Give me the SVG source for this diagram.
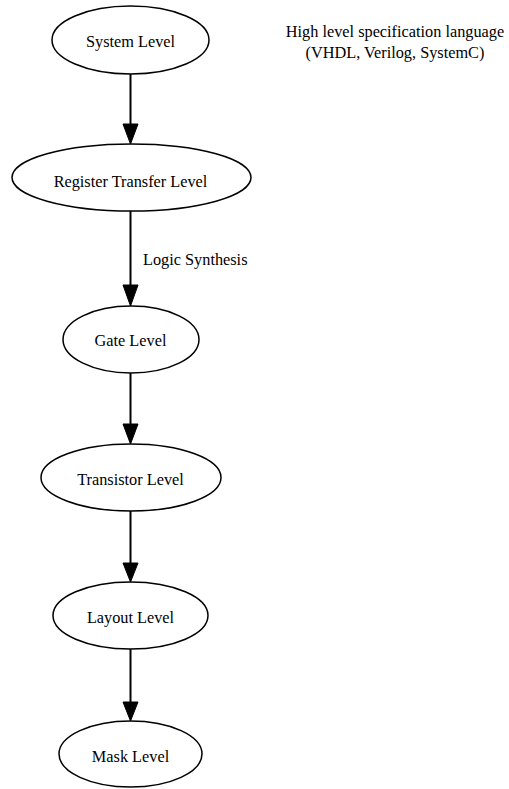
<svg xmlns="http://www.w3.org/2000/svg" width="509" height="789" viewBox="0 0 509 789">
<style>
.n ellipse{fill:none;stroke:#000;stroke-width:1.5}
text{font-family:"Liberation Serif","Times New Roman",serif;font-size:16.3px;fill:#000}
.n text{text-anchor:middle}
.e line{stroke:#000;stroke-width:2}
.e polygon{fill:#000;stroke:#000;stroke-width:1}
</style>
<rect width="509" height="789" fill="#fff"/>
<g id="edges" class="e">
<line x1="130.5" y1="74" x2="130.5" y2="126"/><polygon points="123,124 138,124 130.5,144"/>
<line x1="130.5" y1="211" x2="130.5" y2="287"/><polygon points="123,285 138,285 130.5,306"/>
<line x1="130.5" y1="373" x2="130.5" y2="426"/><polygon points="123,424 138,424 130.5,444"/>
<line x1="130.5" y1="511" x2="130.5" y2="565"/><polygon points="123,563 138,563 130.5,582"/>
<line x1="130.5" y1="649" x2="130.5" y2="704"/><polygon points="123,702 138,702 130.5,721"/>
<text x="143" y="265">Logic Synthesis</text>
</g>
<g id="system" class="n"><ellipse cx="130.5" cy="40" rx="78.5" ry="34"/><text x="130.5" y="47">System Level</text></g>
<g id="rtl" class="n"><ellipse cx="131.5" cy="177.5" rx="119.5" ry="33.5"/><text x="130.5" y="187">Register Transfer Level</text></g>
<g id="gate" class="n"><ellipse cx="131" cy="339.5" rx="68" ry="33.5"/><text x="130.5" y="346">Gate Level</text></g>
<g id="transistor" class="n"><ellipse cx="131" cy="477.5" rx="90" ry="33.5"/><text x="130.5" y="485">Transistor Level</text></g>
<g id="layout" class="n"><ellipse cx="130.5" cy="615.5" rx="77.5" ry="33.5"/><text x="130.5" y="623">Layout Level</text></g>
<g id="mask" class="n"><ellipse cx="130.5" cy="754" rx="71.5" ry="33"/><text x="130.5" y="762">Mask Level</text></g>
<g id="note" class="n"><text x="395" y="37">High level specification language</text><text x="395" y="58">(VHDL, Verilog, SystemC)</text></g>
</svg>
